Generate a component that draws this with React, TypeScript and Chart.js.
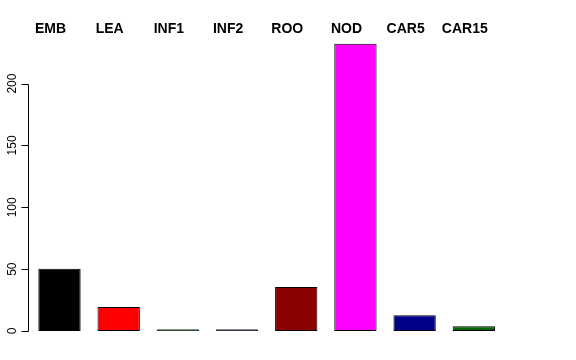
import React, { useEffect, useRef } from "react";
import { Chart, registerables } from "chart.js";

Chart.register(...registerables);

const categories = ["EMB", "LEA", "INF1", "INF2", "ROO", "NOD", "CAR5", "CAR15"];
const values = [50.3, 19.4, 1.4, 1.4, 35.6, 232.3, 12.7, 3.9];
const barColors = ["#000000", "#ff0000", "#006400", "#00008b", "#8b0000", "#ff00ff", "#00008b", "#006400"];
const borderColors = ["#000000", "#000000", "#2b4a2b", "#333348", "#000000", "#000000", "#000000", "#000000"];
const yTicks = [0, 50, 100, 150, 200];

const axisPlugin = {
  id: "rAxis",
  afterDraw(chart: any) {
    const ctx = chart.ctx;
    const y = chart.scales.y;
    const x = chart.scales.x;
    const axisX = 28.5;
    ctx.save();
    ctx.strokeStyle = "#000";
    ctx.lineWidth = 1;
    ctx.beginPath();
    ctx.moveTo(axisX, Math.round(y.getPixelForValue(yTicks[0])) + 0.5);
    ctx.lineTo(axisX, Math.round(y.getPixelForValue(yTicks[yTicks.length - 1])) + 0.5);
    yTicks.forEach((t) => {
      const py = Math.round(y.getPixelForValue(t)) + 0.5;
      ctx.moveTo(axisX, py);
      ctx.lineTo(axisX - 7, py);
    });
    ctx.stroke();
    ctx.fillStyle = "#000";
    ctx.font = "12px 'Liberation Sans', Arial, sans-serif";
    ctx.textAlign = "center";
    ctx.textBaseline = "alphabetic";
    yTicks.forEach((t) => {
      const py = y.getPixelForValue(t);
      ctx.save();
      ctx.translate(16, py);
      ctx.rotate(-Math.PI / 2);
      ctx.fillText(String(t), 0, 0);
      ctx.restore();
    });
    ctx.font = "bold 14px 'Liberation Sans', Arial, sans-serif";
    ctx.textAlign = "center";
    categories.forEach((c, i) => {
      const px = x.getPixelForValue(i);
      ctx.fillText(c, px - 9, 33);
    });
    ctx.restore();
  },
};

export default function App() {
  const ref = useRef<HTMLCanvasElement>(null);
  useEffect(() => {
    if (!ref.current) return;
    const chart = new Chart(ref.current, {
      type: "bar",
      data: {
        labels: categories,
        datasets: [
          {
            data: values,
            backgroundColor: barColors,
            borderColor: borderColors,
            borderWidth: 1,
            borderSkipped: false,
            categoryPercentage: 1,
            barPercentage: 0.715,
          },
        ],
      },
      options: {
        animation: false,
        responsive: true,
        maintainAspectRatio: false,
        layout: { padding: { left: 29.9, right: 72.6, top: 34.1, bottom: 29 } },
        plugins: { legend: { display: false }, tooltip: { enabled: false } },
        scales: {
          x: { display: false, offset: true },
          y: { display: false, min: 0, max: 240 },
        },
      },
      plugins: [axisPlugin],
    });
    return () => chart.destroy();
  }, []);
  return (
    <div style={{ position: "fixed", left: 0, top: 0, width: 576, height: 360, background: "#fff" }}>
      <canvas ref={ref} />
    </div>
  );
}
